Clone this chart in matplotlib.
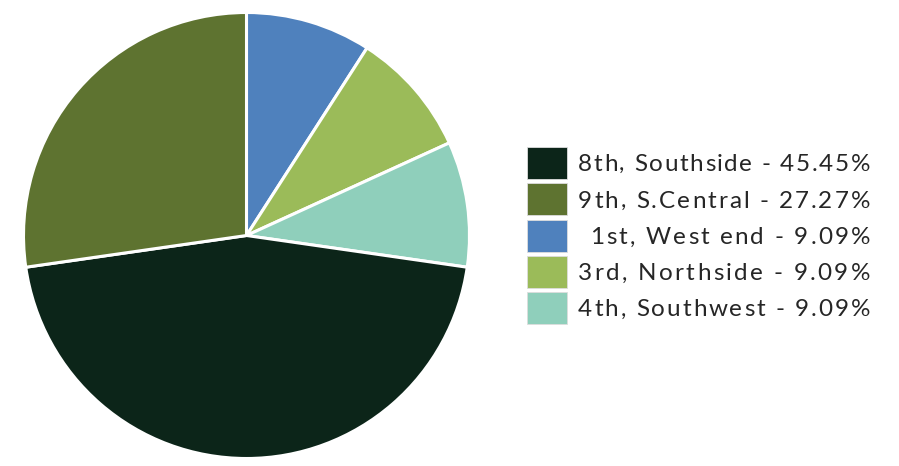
import matplotlib
matplotlib.use("Agg")
import matplotlib.pyplot as plt
from matplotlib.patches import Rectangle
from matplotlib.font_manager import FontProperties

# Data (clockwise from top)
labels = ["1st, West end", "3rd, Northside", "4th, Southwest", "8th, Southside", "9th, S.Central"]
values = [9.09, 9.09, 9.09, 45.45, 27.27]
colors = ["#4f81bd", "#9bbb59", "#8fcfbb", "#0c2519", "#5e7330"]

legend_order = ["8th, Southside", "9th, S.Central", "1st, West end", "3rd, Northside", "4th, Southwest"]
legend_text = ["8th, Southside - 45.45%", "9th, S.Central - 27.27%", "1st, West end - 9.09%",
               "3rd, Northside - 9.09%", "4th, Southwest - 9.09%"]

W, H = 899, 466
fig = plt.figure(figsize=(W / 100, H / 100), dpi=100)
fig.patch.set_facecolor("white")

cx, cy, r = 246.5, 235.5, 223
ax = fig.add_axes([(cx - r) / W, (H - cy - r) / H, 2 * r / W, 2 * r / H])
ax.pie(values, colors=colors, startangle=90, counterclock=False, radius=1,
       wedgeprops=dict(edgecolor="white", linewidth=2.2))
ax.set_xlim(-1.0, 1.0)
ax.set_ylim(-1.0, 1.0)
ax.set_aspect("equal")
ax.axis("off")

# Legend
cmap = dict(zip(labels, colors))
lax = fig.add_axes([0, 0, 1, 1])
lax.set_xlim(0, W)
lax.set_ylim(H, 0)
lax.axis("off")

renderer = fig.canvas.get_renderer()
prop = FontProperties(family="Lato", size=17.5)


def tw(s):
    w, h, d = renderer.get_text_width_height_descent(s, prop, ismath=False)
    return w


bar_w = tw("|")


def offsets(s):
    return [tw(s[:i] + "|") - bar_w if i > 0 else 0.0 for i in range(len(s))], tw(s)


x_right = 870
lefts = [578, 578, 590, 578, 578]
centers = [162.5, 199, 236, 272, 308]
for name, txt, yc, xl in zip(legend_order, legend_text, centers, lefts):
    lax.add_patch(Rectangle((527, yc - 16), 40, 32, facecolor=cmap[name], edgecolor="#dddddd", linewidth=0.6))
    offs, w = offsets(txt)
    track = ((x_right - xl) - w) / (len(txt) - 1)
    for i, ch in enumerate(txt):
        if ch == " ":
            continue
        lax.text(xl + offs[i] + track * i, yc, ch, ha="left", va="center_baseline",
                 fontproperties=prop, color="#262626")

fig.savefig("out.png", dpi=100, facecolor="white")
